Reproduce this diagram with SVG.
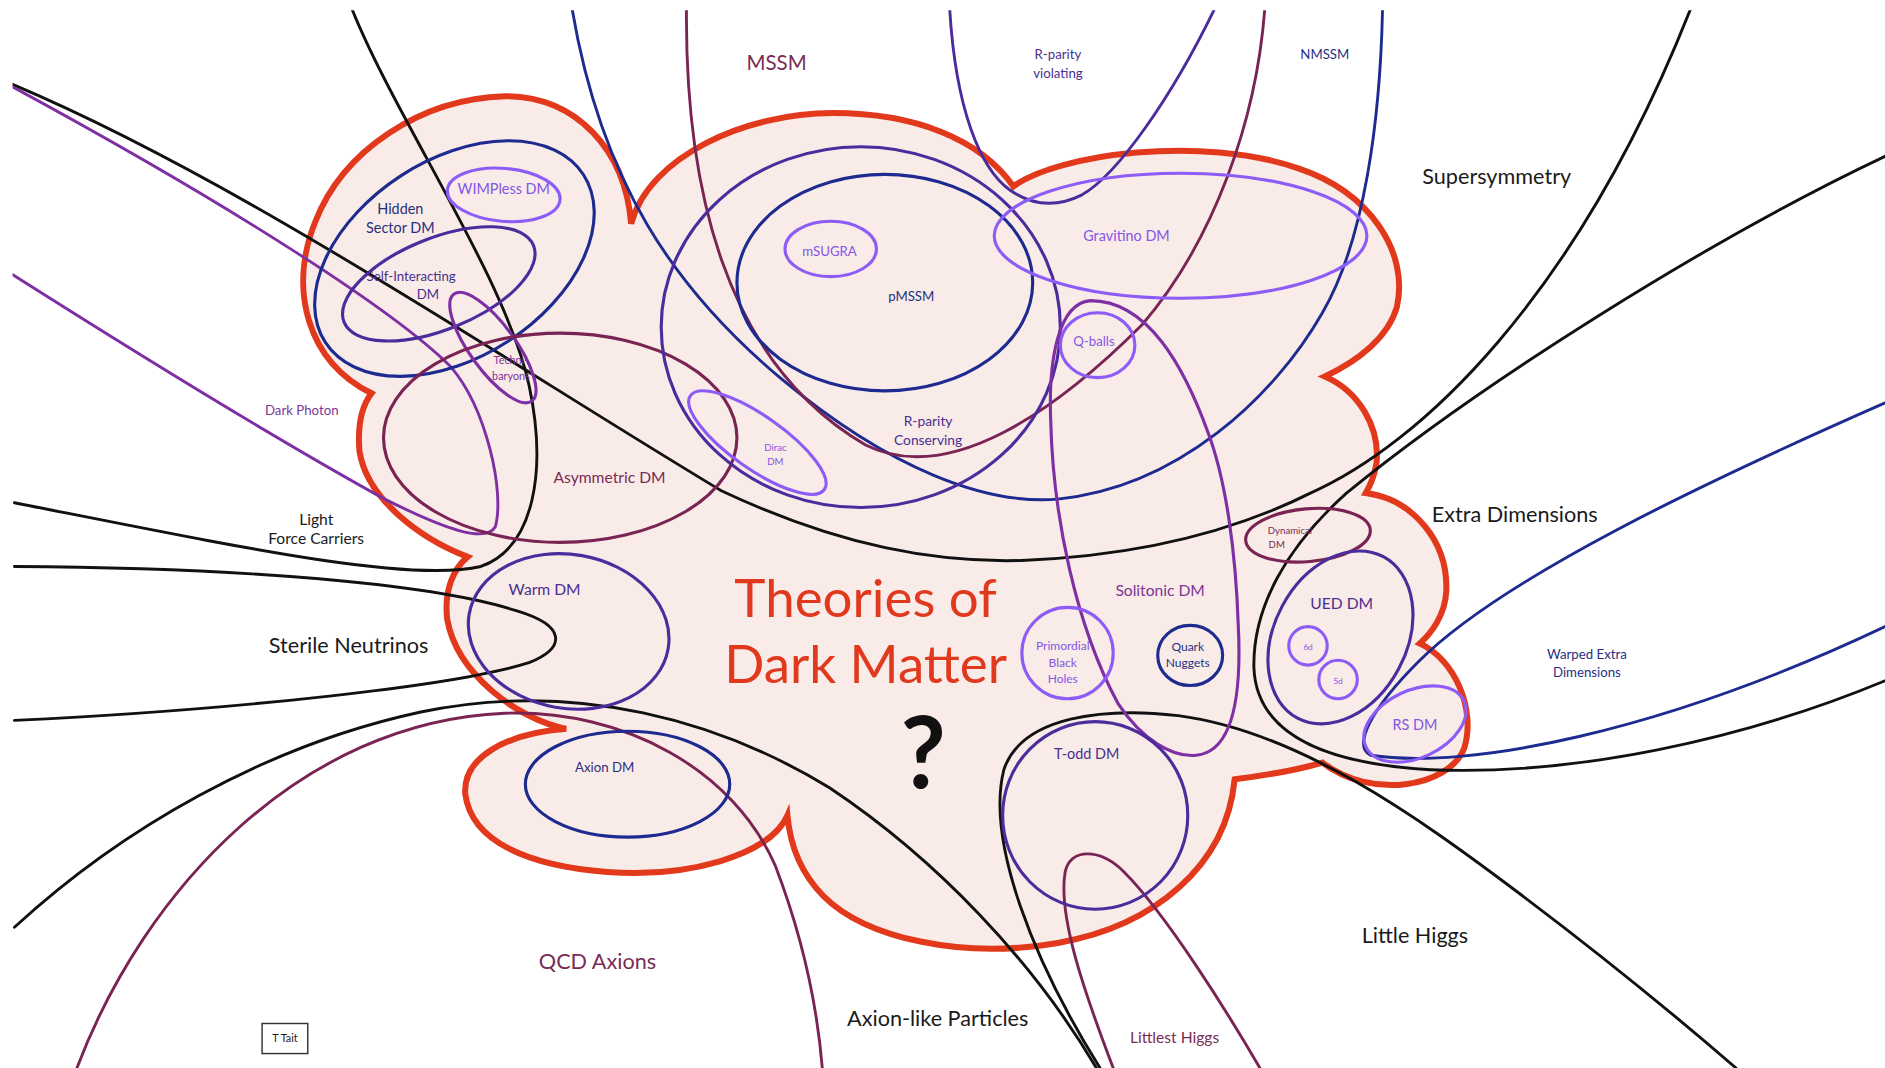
<svg xmlns="http://www.w3.org/2000/svg" width="1885" height="1068" viewBox="0 0 1885 1068">
<style>
.ln{fill:none;stroke-width:2.4;stroke-linecap:round;stroke-linejoin:round}
.el{fill:none;stroke-width:2.6}
.k{stroke:#111}
.nv{stroke:#1d2a8f}
.in{stroke:#4b2c9d}
.vi{stroke:#8d5cf6}
.pu{stroke:#7e2fa3}
.mr{stroke:#7a2454}
text{font-family:Lato,"Open Sans","Liberation Sans",sans-serif;text-anchor:middle}
.fk{fill:#1a1a1a}
.fnv{fill:#27307f}
.fin{fill:#4a2f8f}
.fvi{fill:#8456e6}
.fpu{fill:#7b3797}
.fmr{fill:#7a2c55}
</style>
<defs>
<clipPath id="frame" clipPathUnits="userSpaceOnUse"><rect x="10.5" y="8.5" width="1557.5" height="879.5"/></clipPath>
</defs>
<rect width="1885" height="1068" fill="#ffffff"/>
<g transform="scale(1.2022,1.2027)">
<g id="cloud">
<path d="M309,327 C255,300 240,240 262,185 C285,125 350,82 420,80 C480,80 520,125 525,186 C540,130 620,94 693,94 C760,94 815,115 843,155 C880,128 1000,112 1080,140 C1140,160 1172,210 1162,255 C1155,280 1130,300 1102,313 C1130,325 1148,355 1145,385 C1143,398 1139,405 1136,410 C1175,415 1205,450 1203,492 C1202,512 1190,527 1181,535 C1210,548 1228,590 1218,622 C1205,655 1140,665 1100,634 C1080,640 1050,645 1027,648 C1020,720 960,770 880,784 C800,798 720,780 685,745 C665,725 657,700 655,678 C640,712 570,730 505,725 C440,720 392,700 387,660 C385,630 420,610 471,606 C430,598 380,560 372,515 C369,490 378,472 389,463 C350,448 305,415 299,375 C297,350 302,336 309,327 Z" fill="#f9ebe7" stroke="#e2391c" stroke-width="5" stroke-linejoin="miter"/>
</g>
<g id="connectors" clip-path="url(#frame)">
<path class="ln k" d="M10,70 C200,150 420,300 600,408 C700,455 780,468 850,466 C950,462 1030,440 1090,410 C1180,370 1310,250 1406,8"/>
<path class="ln k" d="M293,8 C330,100 420,230 440,320 C455,390 445,455 400,471 C340,485 200,455 12,418"/>
<path class="ln k" d="M12,471 C200,472 360,485 430,508 C470,520 472,538 440,551 C380,570 200,590 12,599"/>
<path class="ln k" d="M12,771 C100,690 220,620 350,592 C480,565 600,600 690,655 C780,715 860,800 912,888"/>
<path class="ln k" d="M1568,130 C1420,200 1230,320 1120,410 C1070,455 1042,505 1043,555 C1045,610 1100,635 1190,640 C1310,645 1450,615 1568,566"/>
<path class="ln k" d="M915,888 C860,800 820,700 835,640 C850,595 920,588 980,595 C1080,608 1180,680 1260,740 C1340,800 1400,850 1444,888"/>
<path class="ln nv" d="M476,8 C500,150 560,240 650,315 C740,390 820,420 880,415 C980,405 1060,330 1100,260 C1135,200 1148,100 1150,8"/>
<path class="ln nv" d="M1568,335 C1420,400 1250,480 1180,550 C1140,590 1125,620 1140,628 C1220,640 1380,610 1568,521"/>
<path class="ln in" d="M790,8 C795,90 815,140 840,158 C860,172 880,172 900,162 C930,145 975,80 1010,8"/>
<path class="ln mr" d="M571,8 C570,150 600,300 720,370 C790,405 880,340 950,270 C1010,200 1045,100 1052,8"/>
<path class="ln pu" d="M10,72 C200,175 330,260 375,305 C405,340 420,410 412,438 C404,452 370,440 320,415 C220,360 100,285 10,228"/>
<path class="ln mr" d="M64,888 C120,740 250,600 420,593 C520,590 610,640 645,720 C668,780 680,840 684,888"/>
<path class="ln mr" d="M926,888 C900,820 880,760 886,725 C890,705 915,705 935,725 C970,760 1020,840 1048,888"/>
</g>
<g id="region-labels">
<text class="fmr" x="646" y="58" font-size="17">MSSM</text>
<text class="fin" x="880" y="49" font-size="11">R-parity</text>
<text class="fin" x="880" y="65" font-size="11">violating</text>
<text class="fnv" x="1102" y="49" font-size="11">NMSSM</text>
<text class="fk" x="1245" y="153" font-size="18">Supersymmetry</text>
<text class="fk" x="1260" y="434" font-size="18">Extra Dimensions</text>
<text class="fnv" x="1320" y="548" font-size="11">Warped Extra</text>
<text class="fnv" x="1320" y="563" font-size="11">Dimensions</text>
<text class="fk" x="1177" y="784" font-size="18">Little Higgs</text>
<text class="fmr" x="977" y="867" font-size="13">Littlest Higgs</text>
<text class="fk" x="780" y="853" font-size="18">Axion-like Particles</text>
<text class="fmr" x="497" y="806" font-size="18">QCD Axions</text>
<text class="fk" x="290" y="543" font-size="18">Sterile Neutrinos</text>
<text class="fk" x="263" y="436.5" font-size="13">Light</text>
<text class="fk" x="263" y="452.5" font-size="13">Force Carriers</text>
<text class="fpu" x="251" y="345" font-size="11">Dark Photon</text>
</g>
<g id="hidden-sector"><ellipse class="el nv" cx="378" cy="215" rx="128" ry="82" transform="rotate(-33 378 215)"/><text class="fnv" x="333" y="178" font-size="12">Hidden</text><text class="fnv" x="333" y="194" font-size="12">Sector DM</text></g>
<g id="wimpless"><ellipse class="el vi" cx="419" cy="162" rx="47" ry="22" transform="rotate(5 419 162)"/><text class="fvi" x="419" y="161" font-size="12">WIMPless DM</text></g>
<g id="self-interacting"><ellipse class="el in" cx="365" cy="236" rx="85" ry="38" transform="rotate(-22 365 236)"/><text class="fin" x="342" y="234" font-size="11">Self-Interacting</text><text class="fin" x="356" y="249" font-size="11">DM</text></g>
<g id="technibaryons"><ellipse class="el pu" cx="410" cy="289" rx="55" ry="19" transform="rotate(54 410 289)"/><text class="fpu" x="425" y="303" font-size="9">Techni-</text><text class="fpu" x="425" y="316" font-size="9">baryons</text></g>
<g id="asymmetric"><ellipse class="el mr" cx="466" cy="364" rx="147" ry="87"/><text class="fmr" x="507" y="401.5" font-size="13">Asymmetric DM</text></g>
<g id="r-parity-conserving"><ellipse class="el in" cx="716" cy="272" rx="166" ry="150"/><text class="fin" x="772" y="354" font-size="11.5">R-parity</text><text class="fin" x="772" y="370" font-size="11.5">Conserving</text></g>
<g id="pmssm"><ellipse class="el nv" cx="736" cy="235" rx="123" ry="90"/><text class="fnv" x="758" y="250" font-size="11">pMSSM</text></g>
<g id="msugra"><ellipse class="el vi" cx="691" cy="207" rx="38" ry="23"/><text class="fvi" x="690" y="213" font-size="11">mSUGRA</text></g>
<g id="dirac"><ellipse class="el vi" cx="630" cy="368" rx="68" ry="22" transform="rotate(35 630 368)"/><text class="fvi" x="645" y="375" font-size="8">Dirac</text><text class="fvi" x="645" y="387" font-size="8">DM</text></g>
<g id="gravitino"><ellipse class="el vi" cx="982" cy="196" rx="155" ry="52"/><text class="fvi" x="937" y="200" font-size="12">Gravitino DM</text></g>
<g id="solitonic"><path class="el pu" d="M907,250 C880,252 872,300 874,350 C876,430 895,520 930,585 C950,615 975,630 995,628 C1025,625 1033,580 1030,520 C1028,460 1020,400 1005,360 C985,305 955,250 907,250 Z"/><text class="fpu" x="965" y="495.5" font-size="13">Solitonic DM</text></g>
<g id="q-balls"><ellipse class="el vi" cx="913" cy="287" rx="31" ry="27"/><text class="fvi" x="910" y="288" font-size="11">Q-balls</text></g>
<g id="pbh"><circle class="el vi" cx="888" cy="543" r="38"/><text class="fvi" x="884" y="540.5" font-size="10">Primordial</text><text class="fvi" x="884" y="554.5" font-size="10">Black</text><text class="fvi" x="884" y="567.5" font-size="10">Holes</text></g>
<g id="quark-nuggets"><ellipse class="el nv" cx="990" cy="545" rx="27" ry="25"/><text class="fnv" x="988" y="541.5" font-size="10">Quark</text><text class="fnv" x="988" y="554.5" font-size="10">Nuggets</text></g>
<g id="dynamical"><ellipse class="el mr" cx="1088" cy="445" rx="52" ry="22" transform="rotate(-5 1088 445)"/><text class="fmr" x="1073" y="444" font-size="8">Dynamical</text><text class="fmr" x="1062" y="456" font-size="8">DM</text></g>
<g id="ued"><ellipse class="el in" cx="1115" cy="530" rx="76" ry="55" transform="rotate(-62 1115 530)"/><text class="fin" x="1116" y="506.5" font-size="13">UED DM</text></g>
<g id="d6"><circle class="el vi" cx="1088" cy="537" r="16"/><text class="fvi" x="1088" y="540.5" font-size="7">6d</text></g>
<g id="d5"><circle class="el vi" cx="1113" cy="565" r="16"/><text class="fvi" x="1113" y="568.5" font-size="7">5d</text></g>
<g id="rs"><ellipse class="el vi" cx="1177" cy="602" rx="45" ry="28" transform="rotate(-25 1177 602)"/><text class="fvi" x="1177" y="607" font-size="12">RS DM</text></g>
<g id="warm"><ellipse class="el in" cx="473" cy="525" rx="84" ry="64" transform="rotate(10 473 525)"/><text class="fin" x="453" y="494.5" font-size="13">Warm DM</text></g>
<g id="axion-dm"><ellipse class="el nv" cx="522" cy="652" rx="85" ry="44"/><text class="fnv" x="503" y="642" font-size="11">Axion DM</text></g>
<g id="t-odd"><ellipse class="el in" cx="911" cy="678" rx="77" ry="78"/><text class="fin" x="904" y="631" font-size="12">T-odd DM</text></g>
<g id="title">
<text x="720" y="513" font-size="44" fill="#e0391d">Theories of</text>
<text x="720" y="568" font-size="44" fill="#e0391d">Dark Matter</text>
<text x="768" y="655" font-size="82" font-weight="bold" fill="#111">?</text>
</g>
<g id="credit"><rect x="218" y="851" width="38" height="25" fill="#fff" stroke="#333" stroke-width="1.2"/><text class="fk" x="237" y="866" font-size="9">T Tait</text></g>
</g>
</svg>
